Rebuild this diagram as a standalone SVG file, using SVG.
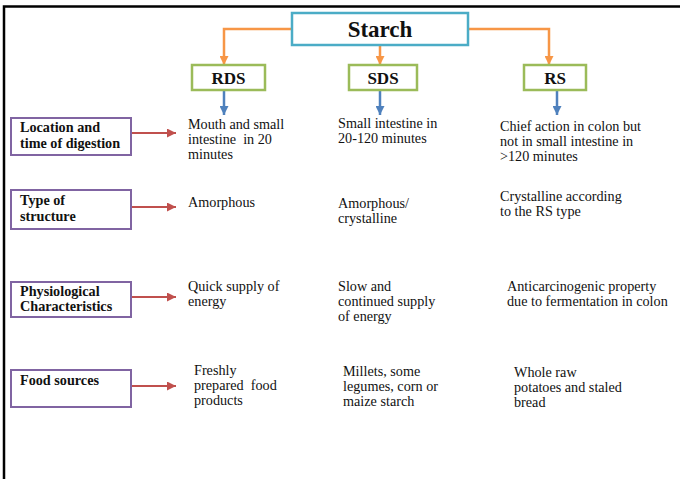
<svg xmlns="http://www.w3.org/2000/svg" width="680" height="479" viewBox="0 0 680 479">
<defs>
<style>
.frame{fill:none;stroke:#000;stroke-width:2.5}
.starch{fill:#fff;stroke:#4bacc6;stroke-width:2.5}
.type{fill:#fff;stroke:#9bbb59;stroke-width:2.5}
.label{fill:#fff;stroke:#8064a2;stroke-width:2}
.t{font-family:"Liberation Serif","Times New Roman",serif;font-size:14.2px;fill:#111}
.b{font-family:"Liberation Serif","Times New Roman",serif;font-size:14.2px;font-weight:bold;fill:#111}
.h{font-family:"Liberation Serif","Times New Roman",serif;font-size:17px;font-weight:bold;fill:#111;text-anchor:middle}
.big{font-family:"Liberation Serif","Times New Roman",serif;font-size:23px;font-weight:bold;fill:#111;text-anchor:middle}
.or{fill:none;stroke:#f79646;stroke-width:2.5;marker-end:url(#ao)}
.bl{fill:none;stroke:#4f81bd;stroke-width:2.5;marker-end:url(#ab)}
.rd{fill:none;stroke:#c0504d;stroke-width:2;marker-end:url(#ar)}
</style>
<marker id="ao" viewBox="0 0 10 10" refX="10" refY="5" markerWidth="9" markerHeight="9" markerUnits="userSpaceOnUse" orient="auto"><path d="M0,0 L10,5 L0,10 z" fill="#f79646"/></marker>
<marker id="ab" viewBox="0 0 10 10" refX="10" refY="5" markerWidth="9" markerHeight="9" markerUnits="userSpaceOnUse" orient="auto"><path d="M0,0 L10,5 L0,10 z" fill="#4f81bd"/></marker>
<marker id="ar" viewBox="0 0 10 10" refX="10" refY="5" markerWidth="9" markerHeight="9" markerUnits="userSpaceOnUse" orient="auto"><path d="M0,0 L10,5 L0,10 z" fill="#c0504d"/></marker>
</defs>
<rect width="680" height="479" fill="#fff"/>
<path class="frame" d="M4,479 V6.5 H680"/>

<g id="connectors">
<path class="or" d="M292,29 H224 V65"/>
<path class="or" d="M380,45 V65"/>
<path class="or" d="M468,29 H549 V65"/>
<path class="bl" d="M224,90 V115"/>
<path class="bl" d="M380,90 V115"/>
<path class="bl" d="M557,90 V115"/>
<path class="rd" d="M131,133 H176"/>
<path class="rd" d="M131,207 H176"/>
<path class="rd" d="M131,297 H176"/>
<path class="rd" d="M131,386 H176"/>
</g>

<g id="starch">
<rect class="starch" x="292" y="13" width="176" height="32"/>
<text class="big" x="380" y="37">Starch</text>
</g>
<g id="rds">
<rect class="type" x="192" y="65" width="73" height="25"/>
<text class="h" x="228.5" y="84">RDS</text>
</g>
<g id="sds">
<rect class="type" x="349" y="65" width="68" height="25"/>
<text class="h" x="383" y="84">SDS</text>
</g>
<g id="rs">
<rect class="type" x="524" y="65" width="62" height="25"/>
<text class="h" x="555" y="84">RS</text>
</g>

<g id="location">
<rect class="label" x="11" y="118" width="120" height="37"/>
<text class="b" x="20" y="132">Location and</text>
<text class="b" x="20" y="148">time of digestion</text>
</g>
<g id="structure">
<rect class="label" x="11" y="190" width="120" height="39"/>
<text class="b" x="20" y="205">Type of</text>
<text class="b" x="20" y="221">structure</text>
</g>
<g id="physiological">
<rect class="label" x="11" y="282" width="120" height="35"/>
<text class="b" x="20" y="296">Physiological</text>
<text class="b" x="20" y="311">Characteristics</text>
</g>
<g id="food">
<rect class="label" x="11" y="370" width="120" height="37"/>
<text class="b" x="20" y="385">Food sources</text>
</g>

<g id="rds-location">
<text class="t" x="188" y="129">Mouth and small</text>
<text class="t" x="188" y="144" xml:space="preserve">intestine  in 20</text>
<text class="t" x="188" y="159">minutes</text>
</g>
<g id="sds-location">
<text class="t" x="338" y="128">Small intestine in</text>
<text class="t" x="338" y="143">20-120 minutes</text>
</g>
<g id="rs-location">
<text class="t" x="500" y="131">Chief action in colon but</text>
<text class="t" x="500" y="146">not in small intestine in</text>
<text class="t" x="500" y="161">&gt;120 minutes</text>
</g>

<g id="rds-structure">
<text class="t" x="188" y="207">Amorphous</text>
</g>
<g id="sds-structure">
<text class="t" x="338" y="208">Amorphous/</text>
<text class="t" x="338" y="223">crystalline</text>
</g>
<g id="rs-structure">
<text class="t" x="500" y="201">Crystalline according</text>
<text class="t" x="500" y="216">to the RS type</text>
</g>

<g id="rds-phys">
<text class="t" x="188" y="291">Quick supply of</text>
<text class="t" x="188" y="306">energy</text>
</g>
<g id="sds-phys">
<text class="t" x="338" y="291">Slow and</text>
<text class="t" x="338" y="306">continued supply</text>
<text class="t" x="338" y="321">of energy</text>
</g>
<g id="rs-phys">
<text class="t" x="507" y="291">Anticarcinogenic property</text>
<text class="t" x="507" y="306">due to fermentation in colon</text>
</g>

<g id="rds-food">
<text class="t" x="194" y="375">Freshly</text>
<text class="t" x="194" y="390" xml:space="preserve">prepared  food</text>
<text class="t" x="194" y="405">products</text>
</g>
<g id="sds-food">
<text class="t" x="343" y="376">Millets, some</text>
<text class="t" x="343" y="391">legumes, corn or</text>
<text class="t" x="343" y="406">maize starch</text>
</g>
<g id="rs-food">
<text class="t" x="514" y="377">Whole raw</text>
<text class="t" x="514" y="392">potatoes and staled</text>
<text class="t" x="514" y="407">bread</text>
</g>
</svg>
